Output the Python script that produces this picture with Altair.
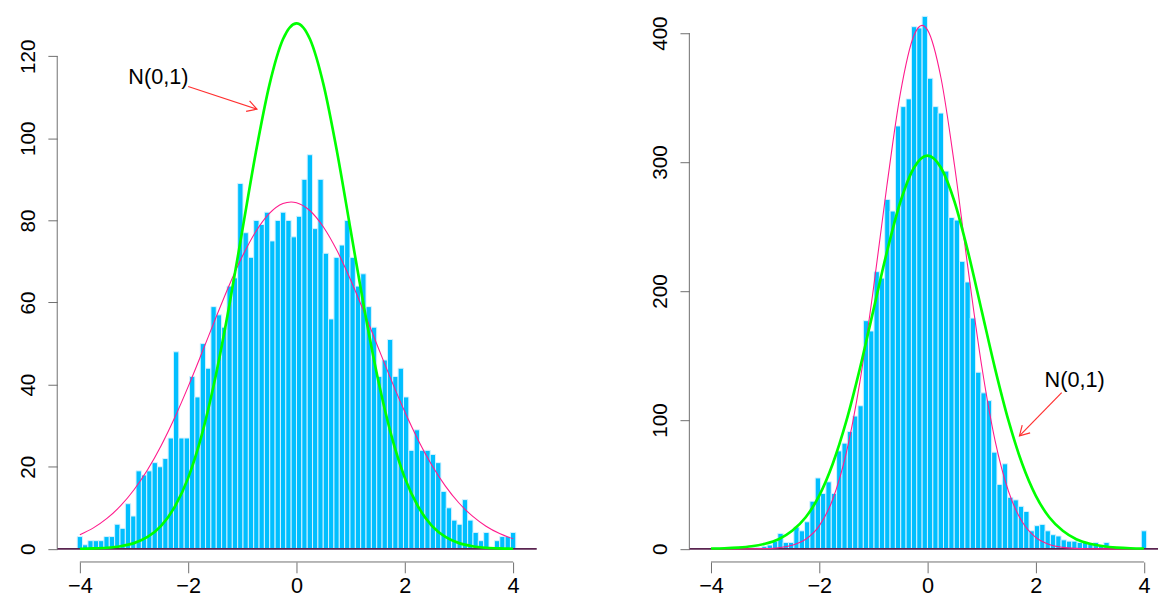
import math
import altair as alt
import pandas as pd

# ---------------- data ----------------
left_counts = [3, 1, 2, 2, 2, 3, 3, 6, 5, 11,
               8, 19, 18, 19, 21, 20, 22, 27, 48, 27,
               27, 42, 37, 50, 44, 59, 57, 54, 64, 66,
               89, 77, 71, 80, 79, 82, 75, 80, 82, 80,
               76, 81, 90, 96, 78, 90, 72, 56, 71, 74,
               80, 71, 64, 67, 59, 54, 42, 46, 51, 42,
               44, 37, 24, 29, 24, 24, 23, 21, 14, 10,
               7, 6, 12, 7, 4, 2, 4, 0, 2, 3,
               3, 4]

right_counts = [0, 1, 0, 0, 0, 0, 0, 1, 1, 1,
                2, 3, 6, 12, 5, 5, 17, 14, 21, 37,
                55, 43, 52, 43, 76, 82, 91, 103, 111, 177,
                169, 215, 210, 271, 262, 328, 343, 349, 405, 404,
                413, 365, 343, 338, 293, 257, 255, 223, 207, 179,
                137, 121, 115, 75, 50, 66, 40, 38, 33, 29,
                14, 18, 19, 14, 11, 10, 7, 6, 6, 5,
                5, 4, 5, 3, 5, 1, 0, 0, 0, 0,
                0, 14]

curve_x = [-4.0, -3.75, -3.5, -3.25, -3.0, -2.75, -2.5, -2.25, -2.0, -1.75,
           -1.5, -1.25, -1.0, -0.75, -0.5, -0.25, 0.0, 0.25, 0.5, 0.75,
           1.0, 1.25, 1.5, 1.75, 2.0, 2.25, 2.5, 2.75, 3.0, 3.25,
           3.5, 3.75, 4.0]
pink_x = [-4.0, -3.75, -3.5, -3.25, -3.0, -2.75, -2.5, -2.25, -2.0, -1.75,
          -1.5, -1.25, -1.0, -0.75, -0.5, -0.25, -0.1, 0.0, 0.25, 0.5, 0.75,
          1.0, 1.25, 1.5, 1.75, 2.0, 2.25, 2.5, 2.75, 3.0, 3.25,
          3.5, 3.75, 4.0]

left_green = [0.04, 0.11, 0.28, 0.65, 1.4, 2.9, 5.6, 10.2, 17.3, 27.7,
              41.6, 58.6, 77.6, 96.6, 113.0, 124.1, 128.0, 124.1, 113.0, 96.6,
              77.6, 58.6, 41.6, 27.7, 17.3, 10.2, 5.6, 2.9, 1.4, 0.65,
              0.28, 0.11, 0.04]
left_pink = [3.44, 5.11, 7.41, 10.46, 14.39, 19.27, 25.13, 31.93, 39.52, 47.63,
             55.93, 63.97, 71.25, 77.31, 81.70, 84.10, 84.5, 84.32, 82.35, 78.33, 72.58,
             65.50, 57.58, 49.30, 41.11, 33.39, 26.42, 20.36, 15.29, 11.17, 7.96,
             5.52, 3.73, 2.45]

right_green = [0.3, 0.5, 1.0, 2.0, 4.0, 7.5, 14.0, 24.5, 41.3, 66.0,
               99.0, 139.6, 185.0, 230.2, 269.2, 295.6, 305.0, 295.6, 269.2, 230.2,
               185.0, 139.6, 99.0, 66.0, 41.3, 24.5, 14.0, 7.5, 4.0, 2.0,
               1.0, 0.5, 0.3]
right_pink = [0.0, 0.0, 0.02, 0.08, 0.28, 0.93, 2.77, 7.42, 17.8, 38.5,
              74.4, 129.2, 201.4, 281.6, 353.5, 398.2, 406.0, 402.5, 365.2, 297.3, 217.2,
              142.4, 83.8, 44.3, 21.0, 8.92, 3.41, 1.17, 0.36, 0.10, 0.02,
              0.0, 0.0, 0.0]

x_ticks = [-4, -2, 0, 2, 4]
left_y_ticks = [0, 20, 40, 60, 80, 100, 120]
right_y_ticks = [0, 100, 200, 300, 400]

note_text = "N(0,1)"
left_note = {"tx": -2.55, "ty": 115.0, "ax": -2.0, "ay": 112.6, "ax2": -0.73, "ay2": 107.1}
right_note = {"tx": 2.72, "ty": 131.0, "ax": 2.48, "ay": 121.2, "ax2": 1.70, "ay2": 87.6}

# ---------------- styling ----------------
FONT = "Liberation Sans"
BAR_FILL = "#00BFFF"
BAR_EDGE = "#d6f2ff"
GREEN = "#00ff00"
PINK = "#ff1a8c"
BASE = "#5a2450"
AXIS_GRAY = "#6e6e6e"
ARROW = "#ff3030"
ARROW_HEAD = "M -1 -0.577 L 0 0 L -1 0.577"


def panel(counts, green, pink, yticks, xdom, ydom, w, h, note):
    n = len(counts)
    step = 8.0 / (n - 1)
    bars_df = pd.DataFrame({"count": counts})
    bars_df["x0"] = [-4 + k * step - step / 2 for k in range(n)]
    bars_df["x1"] = bars_df["x0"] + step

    xs = alt.Scale(domain=xdom, nice=False, zero=False)
    ys = alt.Scale(domain=ydom, nice=False, zero=False)

    x_axis = alt.Axis(values=x_ticks, domain=False, grid=False, tickSize=11,
                      tickColor=AXIS_GRAY, tickWidth=1, labelFontSize=22,
                      labelFont=FONT, labelColor="black", labelPadding=3,
                      labelFlush=False, labelOverlap=False, title=None)
    y_axis = alt.Axis(values=yticks, domain=False, grid=False, tickSize=9.5,
                      tickColor=AXIS_GRAY, tickWidth=1, labelAngle=270,
                      labelAlign="center", labelBaseline="alphabetic",
                      labelPadding=13.5, labelFontSize=21, labelFont=FONT,
                      labelColor="black", labelFlush=False, labelOverlap=False,
                      title=None)

    def X(f):
        return alt.X(f, scale=xs, axis=x_axis)

    def Y(f):
        return alt.Y(f, scale=ys, axis=y_axis)

    bars = alt.Chart(bars_df).mark_rect(fill=BAR_FILL, stroke=BAR_EDGE, strokeWidth=1).encode(
        x=X("x0:Q"), x2="x1:Q", y=Y("count:Q"), y2=alt.datum(0),
    )

    frame_df = pd.DataFrame({"y0": [yticks[0]], "ytop": [yticks[-1]],
                             "xl": [x_ticks[0]], "xr": [x_ticks[-1]]})
    baseline = alt.Chart(frame_df).mark_rule(color=BASE, strokeWidth=1.6).encode(
        y=Y("y0:Q"), x=alt.value(0), x2=alt.value(w),
    )
    yline = alt.Chart(frame_df).mark_rule(color=AXIS_GRAY, strokeWidth=1).encode(
        x=alt.value(0), y=Y("y0:Q"), y2="ytop:Q",
    )
    xline = alt.Chart(frame_df).mark_rule(color=AXIS_GRAY, strokeWidth=1).encode(
        y=alt.value(h), x=X("xl:Q"), x2="xr:Q",
    )

    pink_df = pd.DataFrame({"x": pink_x, "y": pink})
    green_df = pd.DataFrame({"x": curve_x, "y": green})
    pink_line = alt.Chart(pink_df).mark_line(color=PINK, strokeWidth=1.1, interpolate="monotone").encode(
        x=X("x:Q"), y=Y("y:Q"))
    green_line = alt.Chart(green_df).mark_line(color=GREEN, strokeWidth=2.7, interpolate="monotone").encode(
        x=X("x:Q"), y=Y("y:Q"))

    note_df = pd.DataFrame({k: [v] for k, v in note.items()})
    note_df["label"] = [note_text]
    label = alt.Chart(note_df).mark_text(font=FONT, fontSize=22, color="black",
                                         align="center", baseline="middle").encode(
        x=X("tx:Q"), y=Y("ty:Q"), text="label:N")
    shaft = alt.Chart(note_df).mark_rule(color=ARROW, strokeWidth=1.2).encode(
        x=X("ax:Q"), y=Y("ay:Q"), x2="ax2:Q", y2="ay2:Q")

    pxu = w / (xdom[1] - xdom[0])
    pyu = h / (ydom[1] - ydom[0])
    ang = math.degrees(math.atan2((note["ay"] - note["ay2"]) * pyu,
                                  (note["ax2"] - note["ax"]) * pxu)) % 360
    head = alt.Chart(note_df).mark_point(shape=ARROW_HEAD, size=380, filled=False,
                                         stroke=ARROW, strokeWidth=1.2, opacity=1,
                                         angle=ang).encode(
        x=X("ax2:Q"), y=Y("ay2:Q"))

    return alt.layer(bars, baseline, pink_line, green_line, yline, xline,
                     shaft, head, label).properties(width=w, height=h)


left = panel(left_counts, left_green, left_pink, left_y_ticks,
             [-4.418, 4.436], [-3.19, 130.62], 487, 558, left_note)
right = panel(right_counts, right_green, right_pink, right_y_ticks,
              [-4.4, 4.26], [-10.16, 415.95], 476, 558, right_note)

chart = alt.hconcat(left, right, spacing=114).properties(
    padding={"left": 9, "top": 0, "right": 0, "bottom": 0}
).configure_view(stroke=None)

chart.save("out.html", embed_options={"renderer": "svg", "actions": False})
